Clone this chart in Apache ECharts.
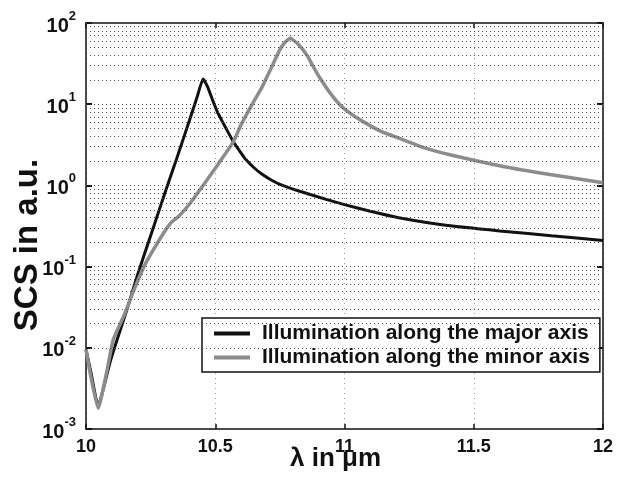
<!DOCTYPE html>
<html>
<head>
<meta charset="utf-8">
<script src="https://cdn.jsdelivr.net/npm/echarts@6/dist/echarts.min.js"></script>
<style>
html,body{margin:0;padding:0;background:#fff;}
#chart{width:622px;height:477px;}
</style>
</head>
<body>
<div id="chart"></div>
<script>
// Wavelength (µm) and scattering cross section (a.u.)
const majorLambda = [10.00, 10.02, 10.047, 10.07, 10.095, 10.12, 10.159, 10.20, 10.25, 10.30, 10.35, 10.40, 10.43, 10.453, 10.47, 10.49, 10.51, 10.53, 10.55, 10.569, 10.60, 10.62, 10.65, 10.68, 10.72, 10.76, 10.83, 10.905, 11.0, 11.1, 11.21, 11.4, 11.6, 11.8, 12.0];
const majorSCS    = [0.0095, 0.0048, 0.0019, 0.0034, 0.007, 0.0125, 0.03, 0.08, 0.24, 0.72, 2.1, 6.3, 12.3, 20.5, 16.5, 11.2, 7.8, 5.9, 4.5, 3.5, 2.5, 2.05, 1.65, 1.38, 1.15, 1.0, 0.84, 0.71, 0.58, 0.48, 0.40, 0.32, 0.275, 0.24, 0.21];

const minorLambda = [10.00, 10.02, 10.047, 10.08, 10.105, 10.147, 10.186, 10.224, 10.29, 10.33, 10.36, 10.406, 10.453, 10.51, 10.569, 10.60, 10.646, 10.68, 10.712, 10.75, 10.77, 10.79, 10.82, 10.855, 10.878, 10.905, 10.944, 10.983, 11.025, 11.072, 11.137, 11.207, 11.31, 11.408, 11.60, 11.795, 12.0];
const minorSCS    = [0.0095, 0.0042, 0.0018, 0.005, 0.0125, 0.025, 0.052, 0.1, 0.23, 0.35, 0.42, 0.62, 1.0, 1.8, 3.4, 5.6, 10.4, 16, 26, 47, 58, 65, 55, 40, 29.5, 21, 13.8, 9.8, 7.6, 6.1, 4.7, 3.86, 2.9, 2.39, 1.75, 1.36, 1.08];

const seriesNames = ['Illumination along the major axis', 'Illumination along the minor axis'];
const xTicks = [10, 10.5, 11, 11.5, 12];
const decades = [-3, -2, -1, 0, 1, 2];
const minorMultipliers = [2, 3, 4, 5, 6, 7, 8, 9];

const gridValues = [];
decades.forEach(function (d) {
  gridValues.push(Math.pow(10, d));
  if (d < 2) minorMultipliers.forEach(function (m) { gridValues.push(m * Math.pow(10, d)); });
});

const majorData = majorLambda.map(function (x, i) { return [x, majorSCS[i]]; });
const minorData = minorLambda.map(function (x, i) { return [x, minorSCS[i]]; });

const chart = echarts.init(document.getElementById('chart'), null, {renderer: 'canvas'});
const FONT = 'Liberation Sans, Arial, sans-serif';

const option = {
  backgroundColor: '#ffffff',
  animation: false,
  textStyle: {fontFamily: FONT},
  grid: {left: 86, right: 19, top: 23, bottom: 48, containLabel: false, outerBoundsMode: 'none'},
  xAxis: [{
    type: 'value', min: 10, max: 12, interval: 0.5, position: 'bottom',
    name: 'λ in μm', nameLocation: 'middle', nameGap: 17, nameMoveOverlap: false,
    nameTextStyle: {fontSize: 26, fontWeight: 'bold', color: '#111', fontFamily: FONT, padding: [0, 18, 0, 0]},
    axisLine: {show: true, onZero: false, lineStyle: {color: '#111', width: 1.5}},
    axisTick: {show: true, inside: true, length: 5, lineStyle: {color: '#111', width: 1.5}},
    axisLabel: {fontSize: 18, fontWeight: 'bold', color: '#111', margin: 9,
      formatter: function (v) { return xTicks.indexOf(v) >= 0 ? String(v) : ''; }},
    splitLine: {show: true, lineStyle: {color: '#9a9a9a', width: 1, type: [1, 4]}}
  }, {
    type: 'value', min: 10, max: 12, interval: 0.5, position: 'top',
    axisLine: {show: true, onZero: false, lineStyle: {color: '#111', width: 1.5}},
    axisTick: {show: true, inside: true, length: 5, lineStyle: {color: '#111', width: 1.5}},
    axisLabel: {show: false}, splitLine: {show: false}
  }],
  yAxis: [{
    type: 'log', logBase: 10, min: 0.001, max: 100, position: 'left',
    name: 'SCS in a.u.', nameLocation: 'middle', nameGap: 42, nameRotate: 90, nameMoveOverlap: false,
    nameTextStyle: {fontSize: 33, fontWeight: 'bold', color: '#111', fontFamily: FONT, padding: [0, 38, 0, 0]},
    axisLine: {show: true, onZero: false, lineStyle: {color: '#111', width: 1.5}},
    axisTick: {show: true, inside: true, length: 6, lineStyle: {color: '#111', width: 2}},
    axisLabel: {
      margin: 10, color: '#111',
      formatter: function (v) {
        const e = Math.round(Math.log10(v));
        return '{b|10}{s|' + e + '}';
      },
      rich: {
        b: {fontSize: 20, fontWeight: 'bold', color: '#111', fontFamily: FONT, lineHeight: 26, verticalAlign: 'bottom'},
        s: {fontSize: 13, fontWeight: 'bold', color: '#111', fontFamily: FONT, lineHeight: 26, verticalAlign: 'top'}
      }
    },
    splitLine: {show: false}
  }, {
    type: 'log', logBase: 10, min: 0.001, max: 100, position: 'right',
    axisLine: {show: true, onZero: false, lineStyle: {color: '#111', width: 1.5}},
    axisTick: {show: true, inside: true, length: 6, lineStyle: {color: '#111', width: 2}},
    axisLabel: {show: false}, splitLine: {show: false}
  }],
  legend: {
    show: true, orient: 'vertical', left: 202, top: 318,
    data: seriesNames,
    icon: 'rect', itemWidth: 36, itemHeight: 4, itemGap: 3,
    padding: [5, 10, 4, 12],
    backgroundColor: '#ffffff', borderColor: '#111', borderWidth: 1.5, borderRadius: 0,
    textStyle: {fontSize: 21, fontWeight: 'bold', color: '#111', fontFamily: FONT, padding: [0, 0, 0, 7], lineHeight: 21},
    selectedMode: false
  },
  series: [{
    name: 'grid', type: 'line', data: [[10, 1]], showSymbol: false, symbol: 'none',
    lineStyle: {opacity: 0}, silent: true, z: 1, xAxisIndex: 0, yAxisIndex: 0,
    markLine: {
      silent: true, symbol: ['none', 'none'], animation: false,
      label: {show: false},
      lineStyle: {color: '#4a4a4a', width: 1, type: [1, 3]},
      data: gridValues.map(function (v) { return {yAxis: v}; })
    }
  }, {
    name: seriesNames[0], type: 'line', data: majorData, xAxisIndex: 0, yAxisIndex: 0,
    showSymbol: false, symbol: 'none', smooth: 0.15, z: 3,
    color: '#111111',
    lineStyle: {color: '#111111', width: 3}
  }, {
    name: seriesNames[1], type: 'line', data: minorData, xAxisIndex: 0, yAxisIndex: 0,
    showSymbol: false, symbol: 'none', smooth: 0.15, z: 4,
    color: '#8c8c8c',
    lineStyle: {color: '#8c8c8c', width: 3.5}
  }]
};
chart.setOption(option);
</script>
</body>
</html>
